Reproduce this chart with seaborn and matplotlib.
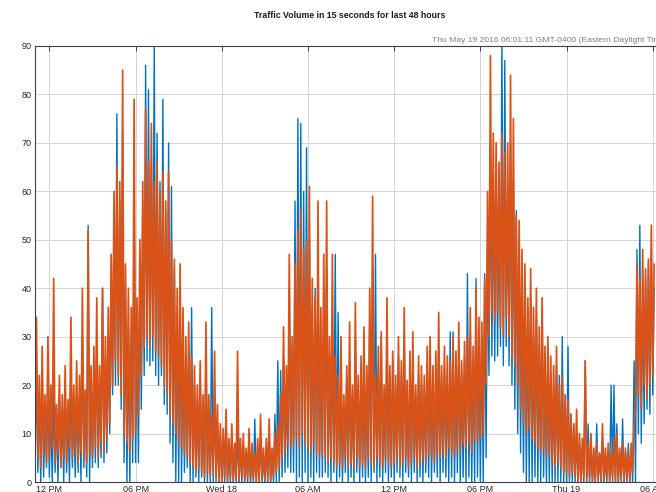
import numpy as np
import pandas as pd
import matplotlib
matplotlib.use("Agg")
import matplotlib.pyplot as plt
import seaborn as sns

# ---- data (6-minute samples starting Tue 11:00) ----
start_time = "2016-05-17 11:00"
orange_vals = [
    8,34, 5,22, 3,28, 6,18, 4,30,
    5,20, 7,42, 4,16, 6,22, 3,18,
    5,24, 4,17, 7,34, 5,20, 6,25,
    4,22, 6,40, 5,19, 4,52, 6,24,
    5,28, 7,38, 5,24, 8,40, 6,30,
    9,36, 12,47, 20,60, 25,65, 22,62,
    18,85, 10,45, 8,40, 6,36, 9,79,
    10,38, 14,50, 22,62, 28,77, 30,66,
    28,74, 30,62, 27,66, 26,60, 24,64,
    20,58, 18,64, 14,50, 12,46, 10,40,
    8,45, 7,36, 6,30, 5,33, 4,26,
    3,24, 2,20, 3,25, 2,18, 1,33,
    2,18, 1,14, 2,27, 1,16, 0,12,
    0,11, 1,15, 0,9, 1,12, 0,8,
    1,27, 0,9, 1,10, 0,7, 1,11,
    0,8, 1,6, 0,9, 0,14, 1,7,
    0,9, 1,13, 0,7, 1,10, 2,12,
    3,18, 5,32, 6,24, 8,47, 7,30,
    8,45, 9,52, 7,56, 10,48, 8,50,
    7,61, 6,42, 8,38, 6,58, 5,36,
    6,47, 5,58, 4,30, 5,47, 4,26,
    3,22, 4,30, 3,18, 5,24, 3,33,
    4,20, 3,37, 5,22, 3,26, 4,32,
    3,24, 5,40, 4,59, 3,22, 5,28,
    4,31, 3,20, 5,38, 4,24, 3,27,
    4,22, 5,30, 3,25, 4,36, 5,21,
    3,27, 4,31, 5,20, 3,26, 4,24,
    5,22, 4,28, 6,30, 5,24, 4,27,
    6,35, 5,24, 6,28, 5,26, 7,25,
    6,30, 5,27, 7,33, 6,25, 8,29,
    7,30, 8,36, 6,28, 9,40, 8,34,
    9,33, 10,42, 20,60, 30,88, 35,72,
    33,70, 35,66, 32,72, 30,68, 34,70,
    30,84, 26,75, 24,55, 20,54, 15,48,
    12,45, 10,38, 11,44, 9,36, 8,40,
    7,32, 6,38, 7,28, 5,30, 6,26,
    4,24, 3,28, 4,20, 3,22, 2,18,
    2,17, 1,14, 2,12, 1,15, 0,10,
    0,9, 1,25, 0,8, 1,10, 0,7,
    0,8, 1,6, 0,12, 0,7, 1,8,
    0,6, 1,9, 0,10, 0,7, 1,8,
    0,7, 1,6, 0,8, 2,12, 15,45,
    18,42, 15,48, 20,44, 17,46, 20,53,
    22,45,
]
blue_vals = [
    0,26, 2,18, 0,22, 1,15, 3,20,
    1,16, 0,18, 2,14, 0,18, 3,15,
    0,20, 2,15, 0,24, 3,16, 1,18,
    2,18, 0,30, 3,16, 1,53, 0,20,
    3,24, 4,30, 3,20, 5,40, 4,26,
    6,30, 10,40, 18,55, 20,76, 20,58,
    15,72, 4,38, 0,32, 0,30, 4,60,
    4,32, 4,44, 15,58, 22,86, 25,81,
    24,66, 25,90, 22,72, 20,62, 22,79,
    16,56, 14,70, 8,61, 4,44, 0,36,
    0,38, 0,30, 2,26, 3,28, 0,36,
    0,20, 1,17, 0,22, 1,15, 0,26,
    0,15, 0,36, 0,18, 0,12, 0,10,
    0,8, 0,13, 0,7, 0,10, 0,6,
    0,10, 0,7, 0,8, 0,6, 0,9,
    0,6, 0,13, 0,7, 0,9, 0,5,
    0,7, 0,10, 0,6, 0,14, 0,25,
    0,23, 1,26, 2,20, 3,40, 2,28,
    2,58, 0,75, 1,74, 0,60, 2,69,
    0,50, 1,36, 0,40, 2,44, 1,30,
    1,40, 2,44, 1,26, 0,30, 2,47,
    0,35, 1,20, 0,16, 2,22, 0,25,
    1,18, 0,30, 2,20, 0,24, 1,22,
    0,20, 1,34, 0,44, 2,47, 0,24,
    1,30, 0,18, 2,30, 0,22, 1,25,
    0,20, 2,26, 1,22, 0,30, 2,18,
    1,24, 0,26, 2,18, 0,22, 1,20,
    0,20, 2,24, 1,26, 0,22, 2,23,
    1,28, 0,22, 2,24, 1,22, 0,31,
    1,31, 0,24, 2,28, 0,22, 1,26,
    0,43, 1,28, 0,26, 0,42, 1,30,
    0,30, 0,43, 5,50, 22,70, 26,64,
    25,66, 26,64, 28,92, 24,87, 28,62,
    24,70, 20,62, 15,56, 10,50, 6,44,
    2,40, 0,36, 0,38, 0,30, 1,34,
    0,28, 0,36, 1,24, 0,26, 0,22,
    0,20, 0,24, 0,22, 0,30, 0,16,
    0,28, 0,14, 0,12, 0,10, 0,8,
    0,7, 0,25, 0,12, 0,8, 0,6,
    0,12, 0,6, 0,9, 0,5, 0,7,
    0,20, 0,20, 0,12, 0,6, 0,13,
    0,6, 0,8, 0,7, 0,25, 0,48,
    10,53, 8,40, 12,42, 15,45, 14,48,
    18,40,
]
tick_start = "2016-05-17 12:00"
tick_labels = ["12 PM", "06 PM", "Wed 18", "06 AM", "12 PM", "06 PM", "Thu 19", "06 AM"]
y_ticks = [0, 10, 20, 30, 40, 50, 60, 70, 80, 90]
title_text = "Traffic Volume in 15 seconds for last 48 hours"
stamp_text = "Thu May 19 2016 06:01:11 GMT-0400 (Eastern Daylight Time)"
x_start = "2016-05-17 11:00"
x_end = "2016-05-19 07:12"

# ---- build frames ----
times = pd.date_range(start_time, periods=len(orange_vals), freq="6min")
df_b = pd.DataFrame({"time": times[:len(blue_vals)], "value": blue_vals})
df_o = pd.DataFrame({"time": times, "value": orange_vals})

sns.set_style("white")
plt.rcParams["font.family"] = ["Liberation Sans", "DejaVu Sans"]

fig = plt.figure(figsize=(6.56, 4.92), dpi=100)
L, R, B, T = 35 / 656, 670 / 656, 1 - 482 / 492, 1 - 46 / 492
ax = fig.add_axes([L, B, R - L, T - B])

sns.lineplot(data=df_b, x="time", y="value", ax=ax, color="#0072BD",
             linewidth=1.0, estimator=None, sort=False)
sns.lineplot(data=df_o, x="time", y="value", ax=ax, color="#D95319",
             linewidth=1.25, estimator=None, sort=False)

ax.set_xlim(pd.Timestamp(x_start), pd.Timestamp(x_end))
ax.set_ylim(0, 90)
ticks = pd.date_range(tick_start, periods=len(tick_labels), freq="6h")
ax.set_xticks(ticks)
ax.set_xticklabels(tick_labels)
ax.set_yticks(y_ticks)
ax.set_xlabel("")
ax.set_ylabel("")

ax.grid(True, color="#d4d4d4", linewidth=0.7)
ax.set_axisbelow(True)
for s in ax.spines.values():
    s.set_color("#404040")
    s.set_linewidth(0.8)
ax.tick_params(axis="both", direction="in", length=3.5, width=0.7,
               color="#404040", labelsize=6.5, labelcolor="#262626", pad=2.5,
               top=True, right=True)

fig.text(350 / 656, 1 - 16 / 492, title_text, ha="center", va="center",
         fontsize=6.3, fontweight="bold", color="#1a1a1a")
fig.text(668 / 656, 1 - 40 / 492, stamp_text, ha="right", va="center",
         fontsize=6.1, color="#808080")

fig.savefig("out.png", dpi=100)
